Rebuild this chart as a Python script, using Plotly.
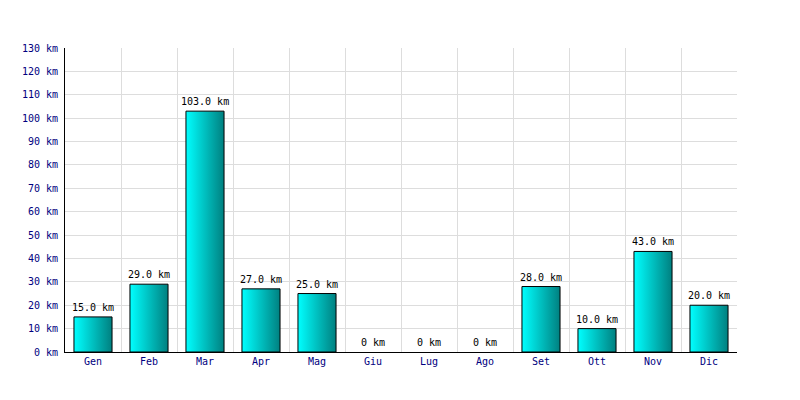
import plotly.graph_objects as go

months = ["Gen", "Feb", "Mar", "Apr", "Mag", "Giu", "Lug", "Ago", "Set", "Ott", "Nov", "Dic"]
km = [15, 29, 103, 27, 25, 0, 0, 0, 28, 10, 43, 20]
y_ticks = list(range(0, 140, 10))

FONT = "DejaVu Sans Mono"
half = 0.34

fig = go.Figure()
for i, v in enumerate(km):
    if v <= 0:
        continue
    fig.add_trace(go.Scatter(
        x=[i - half, i - half, i + half, i + half, i - half],
        y=[0, v, v, 0, 0],
        mode="lines",
        fill="toself",
        fillgradient=dict(type="horizontal",
                          colorscale=[[0, "#00ffff"], [1, "#008080"]]),
        line=dict(color="black", width=1),
        hoverinfo="skip",
        showlegend=False,
    ))

labels = [("%.1f km" % v) if v > 0 else "0 km" for v in km]
for i, (v, t) in enumerate(zip(km, labels)):
    fig.add_annotation(
        x=i, y=v, text=t, showarrow=False,
        xanchor="center", yanchor="bottom", yshift=2,
        font=dict(family=FONT, size=10, color="black"),
    )

fig.update_layout(
    width=784, height=384,
    margin=dict(l=57, r=55, t=40, b=40),
    paper_bgcolor="white", plot_bgcolor="white",
    font=dict(family=FONT, size=10, color="#000080"),
    xaxis=dict(
        range=[-0.5, len(months) - 0.5],
        tickmode="array", tickvals=list(range(len(months))), ticktext=months,
        showgrid=False, zeroline=False,
        showline=True, linecolor="black", linewidth=1,
        ticks="",
        minor=dict(showgrid=True, gridcolor="#dddddd", tick0=0.5, dtick=1, gridwidth=1),
        tickfont=dict(family=FONT, size=10, color="#000080"),
    ),
    yaxis=dict(
        range=[0, 130],
        tickmode="array", tickvals=y_ticks,
        ticktext=[f"{t} km" for t in y_ticks],
        showgrid=True, gridcolor="#dddddd", gridwidth=1,
        zeroline=False,
        showline=True, linecolor="black", linewidth=1,
        ticks="", ticklabelstandoff=4,
        tickfont=dict(family=FONT, size=10, color="#000080"),
    ),
)

fig.write_html("out.html")
